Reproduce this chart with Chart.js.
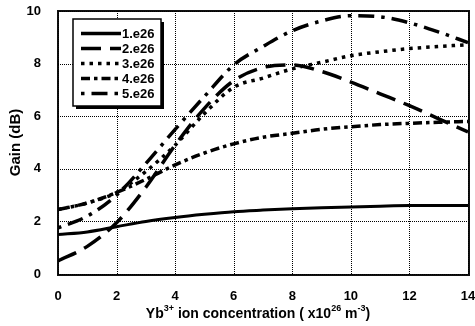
<!DOCTYPE html>
<html>
<head>
<meta charset="utf-8">
<script src="https://cdn.jsdelivr.net/npm/chart.js@4"></script>
<style>
  html, body { margin: 0; padding: 0; background: #fff; }
  #wrap { width: 475px; height: 326px; }
</style>
</head>
<body>
<div id="wrap"><canvas id="chart"></canvas></div>
<script>
// Yb concentration (x1e26 m^-3)
const concentration = [0, 1, 2, 3, 4, 5, 6, 7, 8, 9, 10, 11, 12, 13, 14];

// gain (dB) for each curve
const gain1 = [1.5, 1.6, 1.8, 2.0, 2.15, 2.27, 2.37, 2.43, 2.48, 2.52, 2.55, 2.58, 2.6, 2.6, 2.6];
const gain2 = [0.5, 1.05, 1.95, 3.3, 4.9, 6.3, 7.35, 7.85, 7.95, 7.7, 7.3, 6.85, 6.4, 5.9, 5.4];
const gain3 = [2.45, 2.7, 3.1, 3.9, 4.9, 6.1, 7.1, 7.45, 7.8, 8.05, 8.3, 8.45, 8.57, 8.65, 8.72];
const gain4 = [2.45, 2.7, 3.1, 3.6, 4.15, 4.6, 4.95, 5.2, 5.35, 5.5, 5.6, 5.68, 5.73, 5.77, 5.8];
const gain5 = [1.75, 2.2, 3.0, 4.2, 5.5, 6.75, 7.95, 8.65, 9.25, 9.62, 9.82, 9.78, 9.55, 9.2, 8.8];

const seriesLabels = ['1.e26', '2.e26', '3.e26', '4.e26', '5.e26'];
const xStep = 2;
const yStep = 2;

const font = "'Liberation Sans', Arial, sans-serif";

function toPoints(values) {
  return concentration.map((x, i) => ({ x: x, y: values[i] }));
}

const styles = [
  { borderDash: [], borderWidth: 3 },
  { borderDash: [20, 9], borderWidth: 3.5 },
  { borderDash: [3.5, 5], borderWidth: 3.5 },
  { borderDash: [9, 4, 3.5, 4], borderWidth: 3.5 },
  { borderDash: [3.5, 7, 16, 7], borderWidth: 3.5 },
];

const datasets = [gain1, gain2, gain3, gain4, gain5].map((values, i) => ({
  label: seriesLabels[i],
  data: toPoints(values),
  borderColor: '#000',
  backgroundColor: '#000',
  borderWidth: styles[i].borderWidth,
  borderDash: styles[i].borderDash,
  pointRadius: 0,
  fill: false,
  cubicInterpolationMode: 'monotone',
}));

// dotted grid + frame, placed on the library's own tick positions
function dotsH(ctx, x1, x2, y, gap, size) {
  for (let x = x1; x < x2; x += gap) ctx.fillRect(x, y, size, size);
}
function dotsV(ctx, y1, y2, x, gap, size) {
  for (let y = y1; y < y2; y += gap) ctx.fillRect(x, y, size, size);
}

const dottedGrid = {
  id: 'dottedGrid',
  afterDatasetsDraw(chart) {
    const a = chart.chartArea;
    const ctx = chart.ctx;
    const xs = chart.scales.x;
    const ys = chart.scales.y;
    const left = Math.round(a.left), right = Math.round(a.right);
    const top = Math.round(a.top), bottom = Math.round(a.bottom);
    ctx.save();
    ctx.globalCompositeOperation = 'destination-over';
    ctx.fillStyle = '#000';
    xs.ticks.forEach((t) => {
      const px = Math.round(xs.getPixelForValue(t.value));
      dotsV(ctx, top, bottom, px, 2, 1);
    });
    ys.ticks.forEach((t) => {
      const py = Math.round(ys.getPixelForValue(t.value));
      dotsH(ctx, left, right, py, 2, 1);
    });
    // frame
    ctx.fillStyle = '#111';
    dotsH(ctx, left - 1, right + 1, top - 1, 2, 2);
    dotsH(ctx, left - 1, right + 1, bottom, 2, 2);
    dotsV(ctx, top - 1, bottom + 1, left - 1, 2, 2);
    dotsV(ctx, top - 1, bottom + 1, right, 2, 2);
    ctx.restore();
  }
};

// boxed legend with shadow, drawn inside the plot
const boxLegend = {
  id: 'boxLegend',
  afterDraw(chart) {
    const ctx = chart.ctx;
    const x0 = 73, y0 = 19, w = 88, h = 87;
    ctx.save();
    ctx.fillStyle = '#000';
    ctx.fillRect(x0 + 3, y0 + 3, w, h);
    ctx.fillStyle = '#fff';
    ctx.fillRect(x0, y0, w, h);
    ctx.strokeStyle = '#000';
    ctx.lineWidth = 1.5;
    ctx.strokeRect(x0, y0, w, h);
    ctx.font = 'bold 13px ' + font;
    ctx.textBaseline = 'middle';
    chart.data.datasets.forEach((ds, i) => {
      const y = 33.5 + i * 15;
      ctx.beginPath();
      ctx.setLineDash(ds.borderDash);
      ctx.lineWidth = 3.5;
      ctx.moveTo(81, y);
      ctx.lineTo(121, y);
      ctx.stroke();
      ctx.setLineDash([]);
      ctx.fillStyle = '#000';
      ctx.fillText(ds.label, 122, y + 0.5);
    });
    ctx.restore();
  }
};

// x axis title with superscripts
const xTitle = {
  id: 'xTitle',
  afterDraw(chart) {
    const ctx = chart.ctx;
    const parts = [
      ['Yb', false], ['3+', true], [' ion concentration ( x10', false],
      ['26', true], [' m', false], ['-3', true], [')', false]
    ];
    const big = 'bold 14px ' + font;
    const small = 'bold 9px ' + font;
    ctx.save();
    let total = 0;
    parts.forEach(([t, sup]) => { ctx.font = sup ? small : big; total += ctx.measureText(t).width; });
    const area = chart.chartArea;
    let x = (area.left + area.right) / 2 - 5 - total / 2;
    const y = 318;
    ctx.fillStyle = '#000';
    ctx.textBaseline = 'alphabetic';
    parts.forEach(([t, sup]) => {
      ctx.font = sup ? small : big;
      ctx.fillText(t, x, sup ? y - 7 : y);
      x += ctx.measureText(t).width;
    });
    ctx.restore();
  }
};

new Chart(document.getElementById('chart'), {
  type: 'line',
  data: { datasets: datasets },
  options: {
    responsive: true,
    maintainAspectRatio: false,
    animation: false,
    layout: { padding: { top: 0, right: 0, left: 0, bottom: 0 } },
    plugins: {
      legend: { display: false },
      tooltip: { enabled: false },
    },
    scales: {
      x: {
        type: 'linear',
        min: 0,
        max: 14,
        afterFit: (scale) => { scale.height = 52; scale.paddingRight = 7; },
        ticks: { stepSize: xStep, color: '#000', font: { family: font, size: 13, weight: 'bold' }, padding: 7, maxRotation: 0 },
        grid: { display: false },
        border: { display: false },
      },
      y: {
        type: 'linear',
        min: 0,
        max: 10,
        afterFit: (scale) => { scale.width = 58; scale.paddingTop = 11; },
        ticks: { stepSize: yStep, color: '#000', font: { family: font, size: 13, weight: 'bold' }, padding: 9 },
        grid: { display: false },
        border: { display: false },
        title: {
          display: true,
          text: 'Gain (dB)',
          color: '#000',
          font: { family: font, size: 15, weight: 'bold' },
          padding: { top: 7, bottom: 0 },
        },
      },
    },
  },
  plugins: [dottedGrid, boxLegend, xTitle],
});
</script>
</body>
</html>
